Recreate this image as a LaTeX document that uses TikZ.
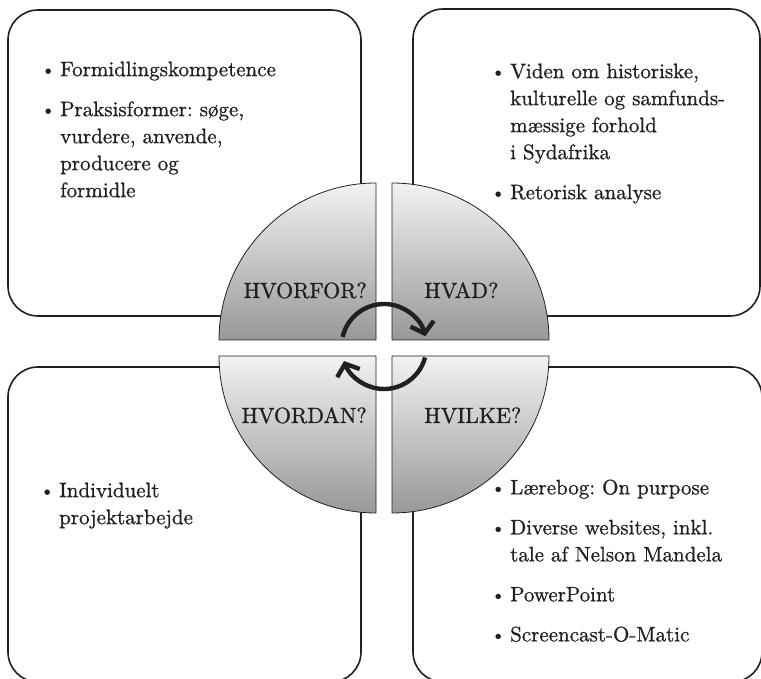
\documentclass[tikz,border=0pt]{standalone}
\usepackage{fontspec}
\setmainfont{lmroman10-regular.otf}[FakeBold=0.9]
\usetikzlibrary{arrows.meta}
\definecolor{inkdark}{HTML}{231F20}
\definecolor{quadlight}{HTML}{F2F2F2}
\definecolor{quaddark}{HTML}{989898}
\newcommand{\itemdot}{\llap{\raisebox{0.8pt}{\fontsize{18}{18}\selectfont\textbullet}\hspace{5pt}}}
\frenchspacing
\begin{document}
\begin{tikzpicture}[x=1pt,y=1pt,
  panel/.style={draw=inkdark,line width=1.6pt,rounded corners=30pt,inner sep=0pt},
  quad/.style={draw=inkdark,line width=0.8pt,top color=quadlight,bottom color=quaddark},
  lab/.style={inner sep=0pt,font=\fontsize{22}{26}\selectfont,text=inkdark},
  items/.style={inner sep=0pt,anchor=north west,align=left,font=\fontsize{21}{27}\selectfont,text=inkdark},
  turn/.style={draw=inkdark,line width=4.4pt,-{Straight Barb[length=10pt,width=24pt]}}]
\useasboundingbox (0,0) rectangle (761,678);
\clip (0,0) rectangle (761,678);

\node[panel,minimum width=353,minimum height=306] (tlbox) at (184.5,515) {};
\node[panel,minimum width=347,minimum height=307] (trbox) at (586.5,515.5) {};
\node[panel,minimum width=353,minimum height=315] (blbox) at (184.5,153.5) {};
\node[panel,minimum width=349,minimum height=315] (brbox) at (587.5,153.5) {};

\node[items] (whytext) at (60,616.6) {\itemdot Formidlingskompetence\\[13pt]
  \itemdot Praksisformer: søge,\\ vurdere, anvende,\\ producere og\\ formidle};
\node[items] (whattext) at (510,614.6) {\itemdot Viden om historiske,\\ kulturelle og samfunds-\\ mæssige forhold\\ i Sydafrika\\[13pt]
  \itemdot Retorisk analyse};
\node[items] (howtext) at (59,195.6) {\itemdot Individuelt\\ projektarbejde};
\node[items] (whichtext) at (510,198.6) {\itemdot Lærebog: On purpose\\[13pt]
  \itemdot Diverse websites, inkl.\\ tale af Nelson Mandela\\[13pt]
  \itemdot PowerPoint\\[13pt]
  \itemdot Screencast-O-Matic};

\path[quad] (376,338) -- ++(-157,0) arc (180:90:157) -- cycle;
\path[quad] (392,338) -- ++(0,157) arc (90:0:157) -- cycle;
\path[quad] (376,322) -- ++(0,-157) arc (270:180:157) -- cycle;
\path[quad] (392,322) -- ++(157,0) arc (0:-90:157) -- cycle;

\node[lab,anchor=base east] (hvorfor) at (367,380) {HVORFOR?};
\node[lab,anchor=base west] (hvad) at (424,380) {HVAD?};
\node[lab,anchor=base east] (hvordan) at (367,255) {HVORDAN?};
\node[lab,anchor=base west] (hvilke) at (424,255) {HVILKE?};

\coordinate (hub) at (384,331.5);
\draw[turn] ([shift={(167:42.5)}]hub) arc (167:14:42.5);
\draw[turn] ([shift={(-15:42.5)}]hub) arc (-15:-160:42.5);
\end{tikzpicture}
\end{document}
